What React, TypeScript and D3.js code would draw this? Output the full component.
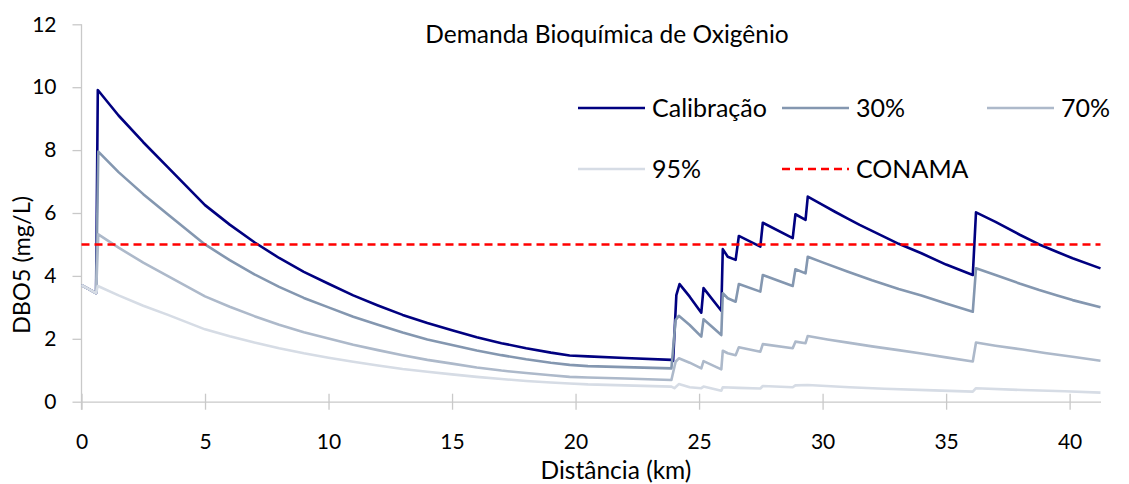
import * as d3 from "d3";
import React, { useRef, useEffect } from "react";

// distância (km), DBO5 (mg/L)
const calibracao: [number, number][] = [
  [0, 3.71], [0.59, 3.45], [0.66, 9.91], [1.5, 9.1], [2.5, 8.25], [3.5, 7.45], [5, 6.25],
  [6, 5.63], [7, 5.07], [8, 4.57], [9, 4.13], [10, 3.75], [11, 3.38], [12, 3.06], [13, 2.76],
  [14, 2.5], [15, 2.27], [16, 2.05], [17, 1.86], [18, 1.7], [19, 1.56], [19.76, 1.47],
  [20.5, 1.44], [22, 1.39], [23.88, 1.33], [23.95, 1.3], [24.08, 3.39], [24.21, 3.74],
  [24.62, 3.34], [25.09, 2.83], [25.18, 3.61], [25.9, 2.89], [25.96, 4.85], [26.16, 4.61],
  [26.48, 4.51], [26.61, 5.27], [27.48, 4.93], [27.58, 5.69], [28.79, 5.2], [28.9, 5.96],
  [29.31, 5.78], [29.4, 6.52], [30, 6.26], [30.5, 6.04], [31, 5.83], [31.5, 5.62],
  [32, 5.43], [32.5, 5.24], [33.08, 5.02], [34, 4.72], [35, 4.36], [36.08, 4.03],
  [36.21, 6.02], [37, 5.72], [38, 5.3], [38.77, 5.0], [39.5, 4.76], [40.12, 4.56],
  [41.25, 4.24],
];

const p30: [number, number][] = [
  [0, 3.71], [0.59, 3.45], [0.68, 7.95], [1.5, 7.3], [2.5, 6.6], [3.5, 5.95], [5, 5.0],
  [6, 4.5], [7, 4.05], [8, 3.65], [9, 3.3], [10, 3.0], [11, 2.7], [12, 2.45], [13, 2.2],
  [14, 1.98], [15, 1.8], [16, 1.63], [17, 1.48], [18, 1.35], [19, 1.24], [19.76, 1.17],
  [20.5, 1.13], [22, 1.1], [23.88, 1.06], [24.05, 2.6], [24.18, 2.73], [24.62, 2.44],
  [25.09, 2.07], [25.18, 2.62], [25.9, 2.12], [25.96, 3.45], [26.16, 3.29], [26.48, 3.18],
  [26.61, 3.74], [27.48, 3.5], [27.58, 4.03], [28.79, 3.68], [28.9, 4.21], [29.31, 4.08],
  [29.4, 4.61], [30, 4.43], [31, 4.14], [32, 3.86], [33.08, 3.58], [34, 3.38], [35, 3.12],
  [36.08, 2.86], [36.21, 4.24], [37, 4.03], [38, 3.75], [38.77, 3.55], [39.5, 3.38],
  [40.12, 3.23], [41.25, 3.0],
];

const p70: [number, number][] = [
  [0, 3.71], [0.59, 3.45], [0.68, 5.32], [1.5, 4.9], [2.5, 4.42], [3.5, 3.99], [5, 3.35],
  [6, 3.02], [7, 2.72], [8, 2.45], [9, 2.21], [10, 2.01], [11, 1.81], [12, 1.64], [13, 1.48],
  [14, 1.33], [15, 1.21], [16, 1.09], [17, 0.99], [18, 0.91], [19, 0.84], [19.76, 0.79],
  [20.5, 0.77], [22, 0.74], [23.88, 0.69], [24.05, 1.27], [24.18, 1.38], [24.62, 1.24],
  [25.09, 1.06], [25.18, 1.29], [25.9, 1.03], [25.96, 1.62], [26.16, 1.54], [26.48, 1.48],
  [26.61, 1.73], [27.48, 1.59], [27.58, 1.83], [28.79, 1.7], [28.9, 1.91], [29.31, 1.86],
  [29.4, 2.09], [30.2, 1.98], [31.09, 1.87], [32, 1.76], [33.07, 1.64], [34, 1.53],
  [35, 1.41], [36.08, 1.28], [36.21, 1.88], [37, 1.78], [38.1, 1.66], [39, 1.55],
  [40.12, 1.43], [41.25, 1.3],
];

const p95: [number, number][] = [
  [0, 3.71], [0.59, 3.45], [0.66, 3.68], [1.5, 3.38], [2.5, 3.05], [3.5, 2.76], [5, 2.3],
  [6, 2.08], [7, 1.88], [8, 1.7], [9, 1.54], [10, 1.4], [11, 1.27], [12, 1.15], [13, 1.04],
  [14, 0.95], [15, 0.87], [16, 0.79], [17, 0.72], [18, 0.66], [19, 0.61], [19.76, 0.58],
  [20.5, 0.55], [22, 0.52], [23.88, 0.48], [24.0, 0.43], [24.18, 0.56], [24.62, 0.46],
  [25.09, 0.43], [25.18, 0.48], [25.9, 0.35], [25.96, 0.46], [26.61, 0.44], [27.48, 0.42],
  [27.58, 0.5], [28.79, 0.46], [28.9, 0.52], [29.4, 0.53], [31.09, 0.46], [32.5, 0.41],
  [34.5, 0.36], [36.08, 0.32], [36.21, 0.43], [38.1, 0.37], [39.8, 0.33], [41.25, 0.29],
];

const conama: [number, number][] = [[0, 5], [41.25, 5]];

const xTicks = [0, 5, 10, 15, 20, 25, 30, 35, 40];
const yTicks = [0, 2, 4, 6, 8, 10, 12];

const series = [
  { name: "Calibração", data: calibracao, color: "#000080", dash: null },
  { name: "30%", data: p30, color: "#8497B0", dash: null },
  { name: "70%", data: p70, color: "#ADB9CA", dash: null },
  { name: "95%", data: p95, color: "#D6DCE5", dash: null },
  { name: "CONAMA", data: conama, color: "#FF0000", dash: "8,5" },
];

const width = 1129;
const height = 484;
const margin = { top: 24.3, right: 28.5, bottom: 82.3, left: 81.5 };
const font = "Lato, 'Open Sans', sans-serif";

export default function App() {
  const xAxisRef = useRef(null);
  const yAxisRef = useRef(null);

  const xScale = d3.scaleLinear()
    .domain([0, 41.25])
    .range([margin.left, width - margin.right]);

  const yScale = d3.scaleLinear()
    .domain([0, 12])
    .range([height - margin.bottom, margin.top]);

  const lineBuilder = d3.line<[number, number]>()
    .x((d) => xScale(d[0]))
    .y((d) => yScale(d[1]));

  useEffect(() => {
    const gx = d3.select(xAxisRef.current);
    gx.selectAll("*").remove();
    gx.call(d3.axisBottom(xScale).tickValues(xTicks).tickSize(8).tickSizeOuter(0).tickPadding(24));
    gx.select(".domain").attr("stroke", "#c9c9c9").attr("stroke-width", 1.3);
    gx.selectAll(".tick line").attr("stroke", "#c9c9c9").attr("stroke-width", 1.3).attr("y1", -8);
    gx.selectAll(".tick text").attr("font-family", font).attr("font-size", 21).attr("fill", "#000");

    const gy = d3.select(yAxisRef.current);
    gy.selectAll("*").remove();
    gy.call(d3.axisLeft(yScale).tickValues(yTicks).tickSize(9).tickSizeOuter(0).tickPadding(16));
    gy.select(".domain").attr("stroke", "#c9c9c9").attr("stroke-width", 1.3)
      .attr("d", `M0,${margin.top}V${height - margin.bottom + 8}`);
    gy.selectAll(".tick line").attr("stroke", "#c9c9c9").attr("stroke-width", 1.3);
    gy.selectAll(".tick text").attr("font-family", font).attr("font-size", 21).attr("fill", "#000");
  }, [xScale, yScale]);

  const legendCols = [578, 782, 987];
  const legendRows = [108, 169];

  return (
    <svg width={width} height={height} style={{ position: "absolute", left: 0, top: 0, background: "#fff" }}>
      <g ref={xAxisRef} transform={`translate(0, ${height - margin.bottom})`} />
      <g ref={yAxisRef} transform={`translate(${margin.left}, 0)`} />

      {series.map((s) => (
        <path
          key={s.name}
          d={lineBuilder(s.data) || undefined}
          fill="none"
          stroke={s.color}
          strokeWidth={2.6}
          strokeDasharray={s.dash || undefined}
          strokeLinejoin="round"
        />
      ))}

      <text x={607} y={43} textAnchor="middle" fontFamily={font} fontSize={24.5} fill="#000">
        Demanda Bioquímica de Oxigênio
      </text>

      {series.map((s, i) => {
        const lx = legendCols[i % 3];
        const ly = legendRows[Math.floor(i / 3)];
        return (
          <g key={"lg" + s.name}>
            <line x1={lx} x2={lx + 67} y1={ly} y2={ly} stroke={s.color} strokeWidth={2.6}
              strokeDasharray={s.dash || undefined} />
            <text x={lx + 74} y={ly + 9} fontFamily={font} fontSize={25} fill="#000">{s.name}</text>
          </g>
        );
      })}

      <text transform={`translate(30, 265) rotate(-90)`} textAnchor="middle" fontFamily={font} fontSize={23.5} fill="#000">
        DBO5 (mg/L)
      </text>
      <text x={616} y={479} textAnchor="middle" fontFamily={font} fontSize={24.5} fill="#000">
        Distância (km)
      </text>
    </svg>
  );
}
